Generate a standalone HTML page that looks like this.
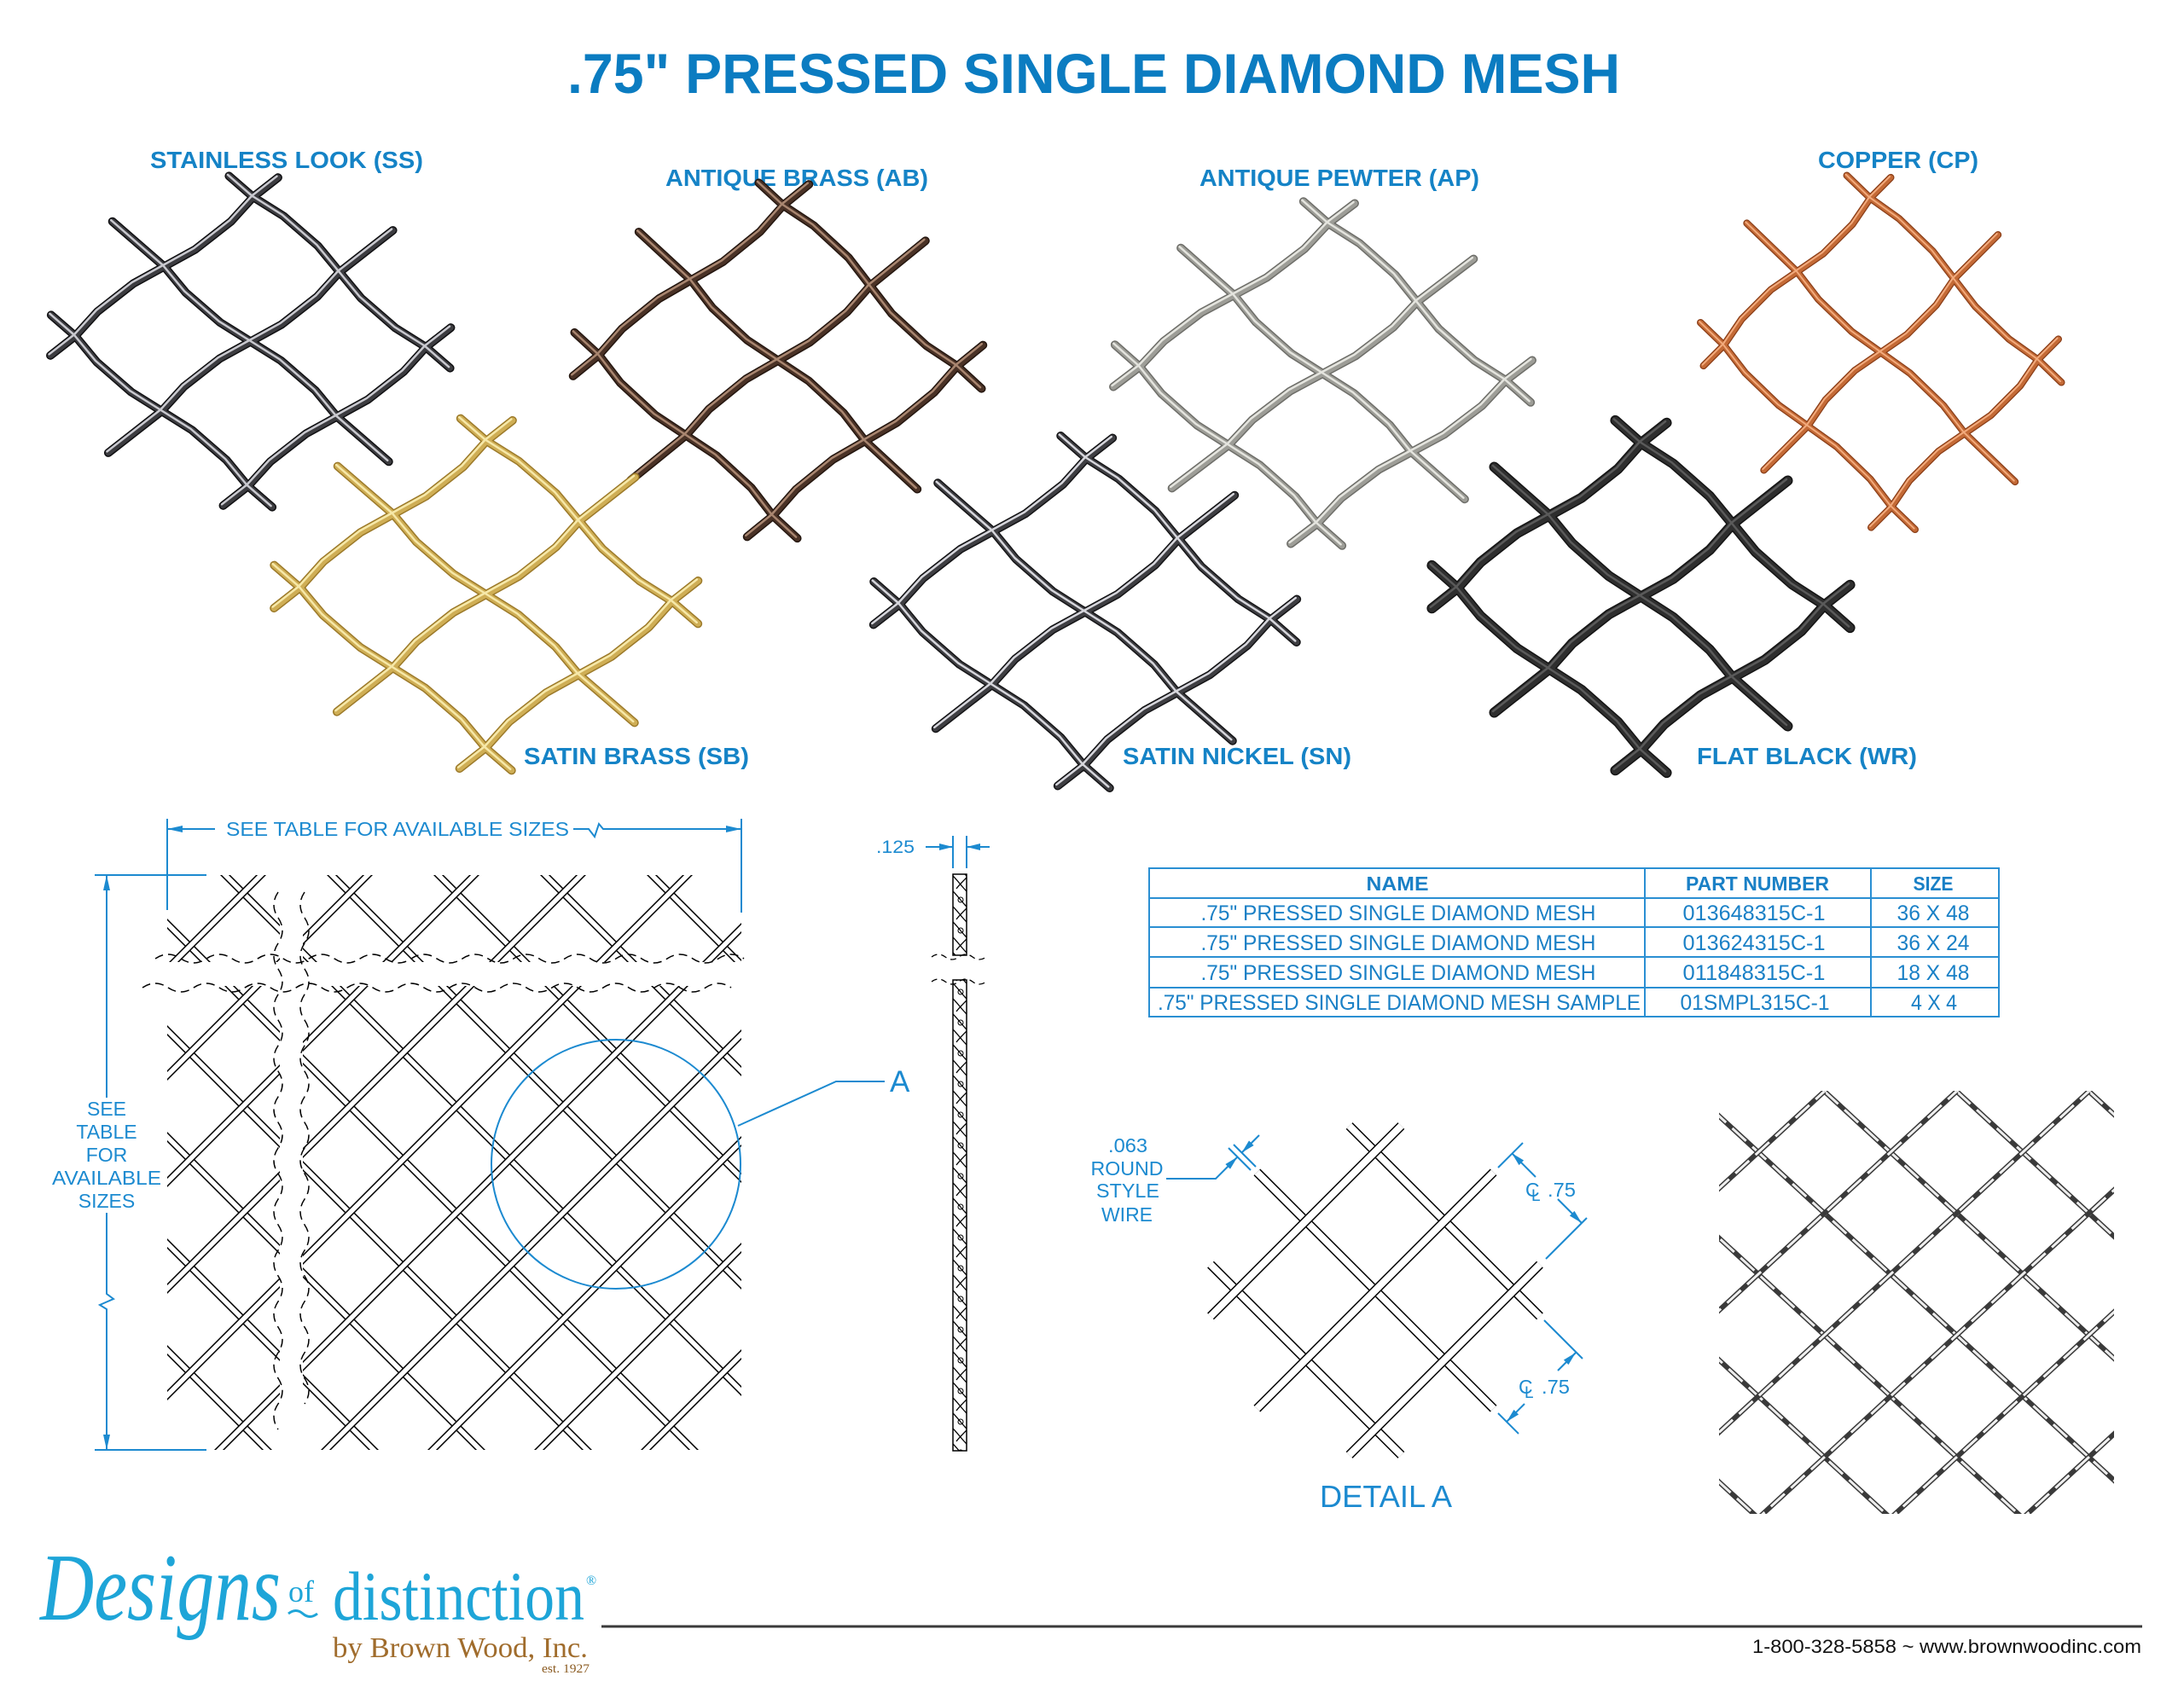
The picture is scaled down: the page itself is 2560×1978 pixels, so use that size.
<!DOCTYPE html>
<html>
<head>
<meta charset="utf-8">
<style>
html,body{margin:0;padding:0;background:#fff;}
svg{display:block;}
text{font-family:"Liberation Sans",Arial,sans-serif;}
.serif{font-family:"Liberation Serif","Times New Roman",serif;}
</style>
</head>
<body>
<svg xmlns="http://www.w3.org/2000/svg" width="2560" height="1978" viewBox="0 0 2560 1978">
<defs>
  <path id="mw" vector-effect="non-scaling-stroke" d="M-1.28 -1 L-1 -1 L-0.7 -0.95 L-0.3 -0.95 L0 -1 L0.3 -1.05 L0.7 -1.05 L1 -1 L1.28 -1 M-1.6 0 L-1 0 L-0.7 0.05 L-0.3 0.05 L0 0 L0.3 -0.05 L0.7 -0.05 L1 0 L1.6 0 M-1.28 1 L-1 1 L-0.7 1.05 L-0.3 1.05 L0 1 L0.3 0.95 L0.7 0.95 L1 1 L1.28 1 M-1 -1.28 L-1 -1 L-0.95 -0.7 L-0.95 -0.3 L-1 0 L-1.05 0.3 L-1.05 0.7 L-1 1 L-1 1.28 M0 -1.6 L0 -1 L0.05 -0.7 L0.05 -0.3 L0 0 L-0.05 0.3 L-0.05 0.7 L0 1 L0 1.6 M1 -1.28 L1 -1 L0.95 -0.7 L0.95 -0.3 L1 0 L1.05 0.3 L1.05 0.7 L1 1 L1 1.28"/>
  <path id="dBack" d="M-512 1000 L208 1720 M-387 1000 L333 1720 M-262 1000 L458 1720 M-137 1000 L583 1720 M-12 1000 L708 1720 M113 1000 L833 1720 M238 1000 L958 1720 M363 1000 L1083 1720 M488 1000 L1208 1720 M613 1000 L1333 1720 M738 1000 L1458 1720 M863 1000 L1583 1720"/>
  <path id="dFwd" d="M207 1000 L-513 1720 M332 1000 L-388 1720 M457 1000 L-263 1720 M582 1000 L-138 1720 M707 1000 L-13 1720 M832 1000 L112 1720 M957 1000 L237 1720 M1082 1000 L362 1720 M1207 1000 L487 1720 M1332 1000 L612 1720 M1457 1000 L737 1720 M1582 1000 L862 1720"/>
  <path id="pFwd" d="M2138.5 1279.5 L1596 1780 M2293.5 1279.5 L1751 1780 M2448.5 1279.5 L1906 1780 M2603.5 1279.5 L2061 1780 M2758.5 1279.5 L2216 1780 M2913.5 1279.5 L2371 1780"/>
  <path id="pBack" d="M1518.5 1279.5 L2061 1780 M1673.5 1279.5 L2216 1780 M1828.5 1279.5 L2371 1780 M1983.5 1279.5 L2526 1780 M2138.5 1279.5 L2681 1780 M2293.5 1279.5 L2836 1780 M2448.5 1279.5 L2991 1780"/>
  <clipPath id="clipDraw"><rect x="196" y="1026" width="673" height="674"/></clipPath>
  <clipPath id="clipPhoto"><rect x="2015" y="1279" width="463" height="496"/></clipPath>
  <pattern id="tw" patternUnits="userSpaceOnUse" x="1117" y="1025" width="16" height="36">
    <rect width="16" height="36" fill="#fff"/>
    <path d="M0 2 C6 8 10 14 16 20 M0 20 C6 26 10 32 16 38 M-2 -16 C6 -8 10 -4 16 2 M16 4 C10 10 7 13 4 17" stroke="#000" stroke-width="1.3" fill="none"/>
    <circle cx="9" cy="30" r="3" fill="none" stroke="#000" stroke-width="1"/>
  </pattern>
</defs>

<!-- TITLE -->
<text x="665" y="109" font-size="66" font-weight="bold" fill="#0b7cc1" textLength="1234" lengthAdjust="spacingAndGlyphs">.75" PRESSED SINGLE DIAMOND MESH</text>

<!-- LABELS -->
<g font-size="28" font-weight="bold" fill="#1583c6">
  <text x="176" y="197" textLength="320" lengthAdjust="spacingAndGlyphs">STAINLESS LOOK (SS)</text>
  <text x="780" y="218" textLength="308" lengthAdjust="spacingAndGlyphs">ANTIQUE BRASS (AB)</text>
  <text x="1406" y="218" textLength="328" lengthAdjust="spacingAndGlyphs">ANTIQUE PEWTER (AP)</text>
  <text x="2131" y="197" textLength="188" lengthAdjust="spacingAndGlyphs">COPPER (CP)</text>
  <text x="614" y="896" textLength="264" lengthAdjust="spacingAndGlyphs">SATIN BRASS (SB)</text>
  <text x="1316" y="896" textLength="268" lengthAdjust="spacingAndGlyphs">SATIN NICKEL (SN)</text>
  <text x="1989" y="896" textLength="258" lengthAdjust="spacingAndGlyphs">FLAT BLACK (WR)</text>
</g>

<!-- TOP MESHES -->
<g fill="none" stroke-linecap="round" stroke-linejoin="round">
  <!-- SS -->
  <g transform="matrix(104.25 -81.5 -101.25 -88 293.75 400.5)">
    <use href="#mw" stroke="#101012" stroke-width="10"/>
    <use href="#mw" stroke="#3c3c40" stroke-width="7"/>
  </g>
  <g transform="translate(-1.5,-1.5)"><g transform="matrix(104.25 -81.5 -101.25 -88 293.75 400.5)"><use href="#mw" stroke="#c9c9cf" stroke-width="2.5"/></g></g>
  <!-- AB -->
  <g transform="matrix(108 -87.75 -102 -94.25 912 422.75)">
    <use href="#mw" stroke="#24160f" stroke-width="10"/>
    <use href="#mw" stroke="#4a3226" stroke-width="7"/>
  </g>
  <g transform="translate(-1.5,-1.5)"><g transform="matrix(108 -87.75 -102 -94.25 912 422.75)"><use href="#mw" stroke="#a98670" stroke-width="2.5"/></g></g>
  <!-- AP -->
  <g transform="matrix(110.5 -84 -104 -92 1550.5 438)">
    <use href="#mw" stroke="#6e6e69" stroke-width="10"/>
    <use href="#mw" stroke="#9d9d97" stroke-width="7"/>
  </g>
  <g transform="translate(-1.5,-1.5)"><g transform="matrix(110.5 -84 -104 -92 1550.5 438)"><use href="#mw" stroke="#e4e4de" stroke-width="2.5"/></g></g>
  <!-- CP -->
  <g transform="matrix(85.75 -86.25 -98.25 -94.75 2204.75 413.25)">
    <use href="#mw" stroke="#8a3e18" stroke-width="8.5"/>
    <use href="#mw" stroke="#c46a36" stroke-width="6"/>
  </g>
  <g transform="translate(-1.2,-1.2)"><g transform="matrix(85.75 -86.25 -98.25 -94.75 2204.75 413.25)"><use href="#mw" stroke="#f2aa7c" stroke-width="2"/></g></g>
  <!-- SB -->
  <g transform="matrix(109.25 -86 -108.75 -94 569.75 697)">
    <use href="#mw" stroke="#9c7a2a" stroke-width="10"/>
    <use href="#mw" stroke="#cfae55" stroke-width="7"/>
  </g>
  <g transform="translate(-1.5,-1.5)"><g transform="matrix(109.25 -86 -108.75 -94 569.75 697)"><use href="#mw" stroke="#f6e8a8" stroke-width="2.5"/></g></g>
  <!-- SN -->
  <g transform="matrix(109.5 -85.5 -108 -94.5 1272 717.5)">
    <use href="#mw" stroke="#141416" stroke-width="10"/>
    <use href="#mw" stroke="#3e3e42" stroke-width="7"/>
  </g>
  <g transform="translate(-1.5,-1.5)"><g transform="matrix(109.5 -85.5 -108 -94.5 1272 717.5)"><use href="#mw" stroke="#d6d6dc" stroke-width="2.5"/></g></g>
  <!-- WR -->
  <g transform="matrix(107.5 -85 -107.5 -95 1923.5 699.5)">
    <use href="#mw" stroke="#141414" stroke-width="12"/>
    <use href="#mw" stroke="#2e2e2e" stroke-width="9"/>
  </g>
  <g transform="translate(-1.5,-1.5)"><g transform="matrix(107.5 -85 -107.5 -95 1923.5 699.5)"><use href="#mw" stroke="#5a5a5a" stroke-width="2.5"/></g></g>
</g>

<!-- LEFT DRAWING MESH -->
<g clip-path="url(#clipDraw)" fill="none">
  <use href="#dBack" stroke="#000" stroke-width="8.5"/>
  <use href="#dBack" stroke="#fff" stroke-width="5.5"/>
  <use href="#dFwd" stroke="#000" stroke-width="8.5"/>
  <use href="#dFwd" stroke="#fff" stroke-width="5.5"/>
</g>
<!-- break bands -->
<rect x="178" y="1128" width="712" height="28" fill="#fff"/>
<rect x="328" y="1036" width="27" height="648" fill="#fff"/>
<g fill="none" stroke="#000" stroke-width="1.5" stroke-dasharray="10 6">
  <path d="M182 1124 q15 -10 30 0 t30 0 t30 0 t30 0 t30 0 t30 0 t30 0 t30 0 t30 0 t30 0 t30 0 t30 0 t30 0 t30 0 t30 0 t30 0 t30 0 t30 0 t30 0 t30 0 t30 0 t30 0 t30 0"/>
  <path d="M167 1158 q15 -10 30 0 t30 0 t30 0 t30 0 t30 0 t30 0 t30 0 t30 0 t30 0 t30 0 t30 0 t30 0 t30 0 t30 0 t30 0 t30 0 t30 0 t30 0 t30 0 t30 0 t30 0 t30 0 t30 0"/>
  <path d="M326 1046 q-10 15 0 30 t0 30 t0 30 t0 30 t0 30 t0 30 t0 30 t0 30 t0 30 t0 30 t0 30 t0 30 t0 30 t0 30 t0 30 t0 30 t0 30 t0 30 t0 30 t0 30 t0 30"/>
  <path d="M357 1046 q-10 15 0 30 t0 30 t0 30 t0 30 t0 30 t0 30 t0 30 t0 30 t0 30 t0 30 t0 30 t0 30 t0 30 t0 30 t0 30 t0 30 t0 30 t0 30 t0 30 t0 30"/>
</g>

<!-- DIMENSIONS LEFT DRAWING -->
<g stroke="#1c8ad0" stroke-width="2" fill="none">
  <line x1="196" y1="960" x2="196" y2="1067"/>
  <line x1="869" y1="960" x2="869" y2="1070"/>
  <line x1="196" y1="972" x2="252" y2="972"/>
  <polyline points="672,972 690,972 697,981 702,966 707,972 869,972"/>
  <line x1="111" y1="1026" x2="242" y2="1026"/>
  <line x1="111" y1="1700" x2="242" y2="1700"/>
  <line x1="125" y1="1026" x2="125" y2="1287"/>
  <polyline points="125,1422 125,1517 133,1523 117,1530 125,1535 125,1700"/>
  <circle cx="722" cy="1365" r="146"/>
  <polyline points="865,1320 980,1268 1037,1268"/>
</g>
<g fill="#1c8ad0">
  <polygon points="196,972 214,968 214,976"/>
  <polygon points="869,972 851,968 851,976"/>
  <polygon points="125,1026 121,1044 129,1044"/>
  <polygon points="125,1700 121,1682 129,1682"/>
</g>
<g fill="#1c8ad0" font-size="23">
  <text x="265" y="980" textLength="402" lengthAdjust="spacingAndGlyphs">SEE TABLE FOR AVAILABLE SIZES</text>
  <g text-anchor="middle">
    <text x="125" y="1308">SEE</text>
    <text x="125" y="1335">TABLE</text>
    <text x="125" y="1362">FOR</text>
    <text x="125" y="1389" textLength="128" lengthAdjust="spacingAndGlyphs">AVAILABLE</text>
    <text x="125" y="1416">SIZES</text>
  </g>
  <text x="1043" y="1280" font-size="35">A</text>
</g>

<!-- PROFILE WIRE -->
<rect x="1117" y="1025" width="16" height="95" fill="url(#tw)" stroke="#000" stroke-width="1.5"/>
<rect x="1117" y="1149" width="16" height="552" fill="url(#tw)" stroke="#000" stroke-width="1.5"/>
<g fill="none" stroke="#000" stroke-width="1.3" stroke-dasharray="7 5">
  <path d="M1092 1122 q8 -6 16 0 t16 0 t16 0 t16 0"/>
  <path d="M1092 1151 q8 -6 16 0 t16 0 t16 0 t16 0"/>
</g>
<g stroke="#1c8ad0" stroke-width="2" fill="none">
  <line x1="1117" y1="980" x2="1117" y2="1018"/>
  <line x1="1133" y1="980" x2="1133" y2="1018"/>
  <line x1="1085" y1="993" x2="1117" y2="993"/>
  <line x1="1133" y1="993" x2="1160" y2="993"/>
</g>
<g fill="#1c8ad0">
  <polygon points="1117,993 1101,989 1101,997"/>
  <polygon points="1133,993 1149,989 1149,997"/>
  <text x="1027" y="1000" font-size="21" textLength="45" lengthAdjust="spacingAndGlyphs">.125</text>
</g>

<!-- TABLE -->
<g stroke="#2a8fd3" stroke-width="2" fill="none">
  <rect x="1347" y="1018" width="996" height="174"/>
  <line x1="1928" y1="1018" x2="1928" y2="1192"/>
  <line x1="2193" y1="1018" x2="2193" y2="1192"/>
  <line x1="1347" y1="1053" x2="2343" y2="1053"/>
  <line x1="1347" y1="1087" x2="2343" y2="1087"/>
  <line x1="1347" y1="1122" x2="2343" y2="1122"/>
  <line x1="1347" y1="1158" x2="2343" y2="1158"/>
</g>
<g fill="#1a80c6" text-anchor="middle">
  <g font-weight="bold" font-size="23">
    <text x="1638" y="1044" textLength="73" lengthAdjust="spacingAndGlyphs">NAME</text>
    <text x="2060" y="1044" textLength="168" lengthAdjust="spacingAndGlyphs">PART NUMBER</text>
    <text x="2266" y="1044" textLength="47" lengthAdjust="spacingAndGlyphs">SIZE</text>
  </g>
  <g font-size="25">
    <text x="1639" y="1079" textLength="463" lengthAdjust="spacingAndGlyphs">.75" PRESSED SINGLE DIAMOND MESH</text>
    <text x="1639" y="1114" textLength="463" lengthAdjust="spacingAndGlyphs">.75" PRESSED SINGLE DIAMOND MESH</text>
    <text x="1639" y="1149" textLength="463" lengthAdjust="spacingAndGlyphs">.75" PRESSED SINGLE DIAMOND MESH</text>
    <text x="1640" y="1184" textLength="566" lengthAdjust="spacingAndGlyphs">.75" PRESSED SINGLE DIAMOND MESH SAMPLE</text>
    <text x="2056" y="1079" textLength="167" lengthAdjust="spacingAndGlyphs">013648315C-1</text>
    <text x="2056" y="1114" textLength="167" lengthAdjust="spacingAndGlyphs">013624315C-1</text>
    <text x="2056" y="1149" textLength="167" lengthAdjust="spacingAndGlyphs">011848315C-1</text>
    <text x="2057" y="1184" textLength="175" lengthAdjust="spacingAndGlyphs">01SMPL315C-1</text>
    <text x="2266" y="1079" textLength="85" lengthAdjust="spacingAndGlyphs">36 X 48</text>
    <text x="2266" y="1114" textLength="85" lengthAdjust="spacingAndGlyphs">36 X 24</text>
    <text x="2266" y="1149" textLength="85" lengthAdjust="spacingAndGlyphs">18 X 48</text>
    <text x="2267" y="1184" textLength="54" lengthAdjust="spacingAndGlyphs">4 X 4</text>
  </g>
</g>

<!-- DETAIL A -->
<g fill="none" stroke-linecap="butt">
  <path d="M1581.6 1320 L1805 1543.4 M1473.4 1374.4 L1750.6 1651.6 M1419 1482.6 L1642.4 1706" stroke="#000" stroke-width="11"/>
  <path d="M1581.6 1320 L1805 1543.4 M1473.4 1374.4 L1750.6 1651.6 M1419 1482.6 L1642.4 1706" stroke="#fff" stroke-width="8"/>
  <path d="M1419 1543.4 L1642.4 1320 M1473.4 1651.6 L1750.6 1374.4 M1581.6 1706 L1805 1482.6" stroke="#000" stroke-width="11"/>
  <path d="M1419 1543.4 L1642.4 1320 M1473.4 1651.6 L1750.6 1374.4 M1581.6 1706 L1805 1482.6" stroke="#fff" stroke-width="8"/>
</g>
<g stroke="#1c8ad0" stroke-width="2" fill="none">
  <polyline points="1367,1382 1425,1382 1450.5,1356.5"/>
  <line x1="1455.5" y1="1351.5" x2="1476" y2="1331"/>
  <line x1="1440" y1="1346" x2="1466" y2="1372"/>
  <line x1="1446" y1="1342" x2="1472" y2="1368"/>
  <line x1="1756" y1="1369" x2="1785" y2="1340"/>
  <line x1="1812" y1="1476" x2="1860" y2="1428"/>
  <line x1="1772" y1="1352" x2="1800" y2="1380"/>
  <line x1="1826" y1="1406" x2="1854" y2="1434"/>
  <line x1="1810" y1="1548" x2="1855" y2="1593"/>
  <line x1="1756" y1="1657" x2="1780" y2="1681"/>
  <line x1="1847" y1="1586" x2="1826" y2="1607"/>
  <line x1="1787" y1="1646" x2="1766" y2="1667"/>
</g>
<g fill="#1c8ad0">
  <polygon points="1450.5,1356.5 1442,1370.6 1436.4,1365"/>
  <polygon points="1455.5,1351.5 1464,1337.4 1469.6,1343"/>
  <polygon points="1772,1352 1786.1,1360.5 1780.5,1366.1"/>
  <polygon points="1854,1434 1839.9,1425.5 1845.5,1419.9"/>
  <polygon points="1847,1586 1838.5,1600.1 1832.9,1594.5"/>
  <polygon points="1766,1667 1774.5,1652.9 1780.1,1658.5"/>
  <g font-size="23" text-anchor="middle">
    <text x="1322" y="1351" textLength="46" lengthAdjust="spacingAndGlyphs">.063</text>
    <text x="1321" y="1378" textLength="85" lengthAdjust="spacingAndGlyphs">ROUND</text>
    <text x="1322" y="1404" textLength="74" lengthAdjust="spacingAndGlyphs">STYLE</text>
    <text x="1321" y="1432" textLength="60" lengthAdjust="spacingAndGlyphs">WIRE</text>
  </g>
  <text x="1788" y="1403" font-size="23">C</text>
  <text x="1795" y="1408" font-size="19">L</text>
  <text x="1814" y="1403" font-size="23" textLength="33" lengthAdjust="spacingAndGlyphs">.75</text>
  <text x="1780" y="1634" font-size="23">C</text>
  <text x="1787" y="1639" font-size="19">L</text>
  <text x="1807" y="1634" font-size="23" textLength="33" lengthAdjust="spacingAndGlyphs">.75</text>
  <text x="1547" y="1767" font-size="36" textLength="155" lengthAdjust="spacingAndGlyphs">DETAIL A</text>
</g>

<!-- PHOTO MESH -->
<g clip-path="url(#clipPhoto)" fill="none" stroke-linecap="butt">
  <use href="#pBack" stroke="#3a3a3a" stroke-width="6"/>
  <use href="#pBack" stroke="#ececec" stroke-width="3" stroke-dasharray="22 10"/>
  <use href="#pFwd" stroke="#3a3a3a" stroke-width="6"/>
  <use href="#pFwd" stroke="#f0f0f0" stroke-width="3" stroke-dasharray="22 10" stroke-dashoffset="8"/>
</g>

<!-- FOOTER -->
<line x1="705" y1="1907" x2="2511" y2="1907" stroke="#3a3a3a" stroke-width="3"/>
<text x="2054" y="1938" font-size="22" fill="#111" textLength="456" lengthAdjust="spacingAndGlyphs">1-800-328-5858 ~ www.brownwoodinc.com</text>

<g class="serif">
  <text class="serif" x="47" y="1899" font-size="112" font-style="italic" fill="#1ea5d8" textLength="282" lengthAdjust="spacingAndGlyphs">Designs</text>
  <text class="serif" x="338" y="1878" font-size="36" fill="#1ea5d8" textLength="30" lengthAdjust="spacingAndGlyphs">of</text>
  <path d="M338 1892 q9 -7 17 0 t17 0" stroke="#1ea5d8" stroke-width="3" fill="none"/>
  <text class="serif" x="390" y="1899" font-size="82" fill="#1ea5d8" textLength="295" lengthAdjust="spacingAndGlyphs">distinction</text>
  <text class="serif" x="687" y="1858" font-size="16" fill="#1ea5d8">®</text>
  <text class="serif" x="390" y="1943" font-size="34" fill="#a06c2c" textLength="299" lengthAdjust="spacingAndGlyphs">by Brown Wood, Inc.</text>
  <text class="serif" x="635" y="1961" font-size="15" fill="#8a5a20" textLength="56" lengthAdjust="spacingAndGlyphs">est. 1927</text>
</g>
</svg>
</body>
</html>
